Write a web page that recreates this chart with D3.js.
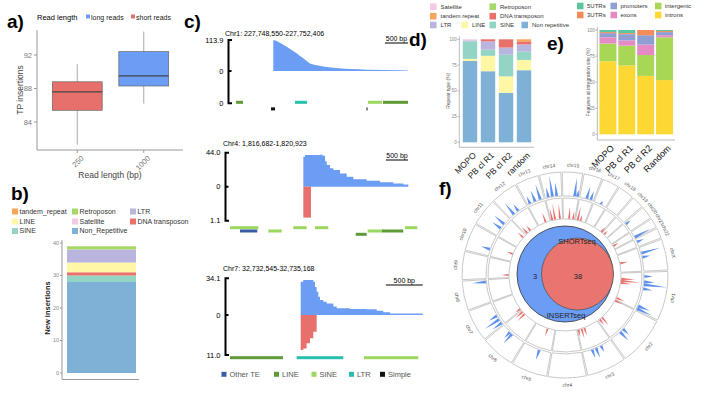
<!DOCTYPE html>
<html>
<head>
<meta charset="utf-8">
<script src="https://cdn.jsdelivr.net/npm/d3@7"></script>
<style>
body { margin: 0; background: #fff; }
svg { display: block; font-family: "Liberation Sans", Arial, sans-serif; }
</style>
</head>
<body>
<svg id="fig" width="708" height="397"></svg>
<script>
// ---------- data ----------
// a) TP insertions by read length
var readLengths = ['250', '1000'];
var readGroups = ['short reads', 'long reads'];
var boxStats = [
	{min: 81.3, q1: 85.4, med: 87.6, q3: 88.8, max: 90.9},
	{min: 86.2, q1: 88.3, med: 89.5, q3: 92.4, max: 94.8}
];
var aTicks = [84, 88, 92];

// b) new insertions by repeat class
var bKeys = ['Non_Repetitive', 'SINE', 'DNA transposon', 'LINE', 'LTR', 'Retroposon', 'Satellite', 'tandem_repeat'];
var bValues = [28, 2, 1, 3, 4, 1, 0, 0];
var bLegend = ['tandem_repeat', 'Retroposon', 'LTR', 'LINE', 'Satellite', 'DNA transposon', 'SINE', 'Non_Repetitive'];
var bTicks = [0, 10, 20, 30, 40];

// c) coverage tracks
var trackTitles = ['Chr1: 227,748,550-227,752,406', 'Chr4: 1,816,682-1,820,923', 'Chr7: 32,732,545-32,735,168'];
var trackLengths = [3856, 4241, 2623];
var trackMax = [113.9, 44.0, 34.1];
var trackMin = [0, 1.1, 11.0];
var scaleBarEnd = [3856, 4037, 2619];
// [bp offset, reads]
var cov1 = [[938, 113.9], [1011, 110], [1119, 100], [1227, 89], [1336, 77], [1444, 65], [1516, 55], [1588, 47], [1660, 37], [1733, 28], [1805, 24], [1877, 21], [2058, 16], [2238, 12], [2419, 9], [2599, 7], [2780, 6], [2960, 5], [3321, 4], [3682, 3], [3856, 2]];
var cov2 = [[1663, 38.8], [1701, 41], [1890, 41], [2041, 41.5], [2102, 40], [2155, 33], [2193, 28], [2268, 24], [2344, 21.6], [2495, 17], [2646, 13], [2797, 9.5], [3100, 7.8], [3402, 5.6], [3704, 4.3], [3931, 3], [4044, 1.3]];
var neg2 = [[1663, 1.0], [1837, 1.0]];
var cov3 = [[961, 31], [996, 32.5], [1110, 32.5], [1132, 31], [1155, 26], [1178, 21.7], [1200, 17], [1223, 14], [1268, 12.4], [1314, 10.8], [1404, 7.8], [1450, 6.2], [1631, 5.6], [1858, 5.3], [1994, 4], [2083, 2.5], [2174, 1.5], [2619, 1.5]];
var neg3 = [[961, 9.6], [996, 9.2], [1041, 7.8], [1087, 6.4], [1132, 4.6], [1178, 4.6]];
// [start, end, type, row]
var feat1 = [[130, 282, 'LINE', 0], [1408, 1668, 'LTR', 0], [2989, 3292, 'SINE', 0], [3314, 3856, 'LINE', 0], [888, 975, 'Simple', 2], [2957, 2978, 'Simple', 2]];
var feat2 = [[0, 642, 'SINE', 0], [1436, 1740, 'SINE', 0], [1928, 2229, 'SINE', 0], [3969, 4248, 'SINE', 0],
	[227, 619, 'Other TE', 1], [869, 1173, 'SINE', 1], [3123, 3441, 'SINE', 1], [3441, 3930, 'LINE', 1], [2851, 3100, 'LINE', 2]];
var feat3 = [[0, 720, 'LINE', 0], [906, 1540, 'LTR', 0], [1821, 2559, 'SINE', 0]];
var featTypes = ['Other TE', 'LINE', 'SINE', 'LTR', 'Simple'];

// d) repeat type (%)
var dCats = ['MOPO', 'PB cl R1', 'PB cl R2', 'random'];
var dKeys = ['Non repetitive', 'LINE', 'SINE', 'LTR', 'DNA transposon', 'tandem repeat', 'Retroposon', 'Satellite'];
var dNonRep = [79, 69, 48, 70];
var dLINE = [2, 15, 16, 10];
var dSINE = [17, 6, 21, 8];
var dLTR = [1, 8, 7, 7];
var dDNA = [0, 2, 8, 3];
var dTandem = [0, 0, 0, 2];
var dRetro = [0, 0, 0, 0];
var dSat = [1, 0, 0, 0];
var pctTicks = [0, 25, 50, 75, 100];

// e) features at integration site (%)
var eCats = ['MOPO', 'PB cl R1', 'PB cl R2', 'Random'];
var eKeys = ['introns', 'intergenic', 'exons', 'promoters', '3UTRs', '5UTRs'];
var eIntrons = [70, 66, 56, 52];
var eIntergenic = [17, 19, 20, 41];
var eExons = [6, 5, 10, 2];
var ePromoters = [4, 6, 9, 3];
var e3UTR = [1, 1, 5, 1];
var e5UTR = [2, 3, 0, 1];

// f) circos + venn
var chrNames = ['chr1', 'chr2', 'chr3', 'chr4', 'chr5', 'chr6', 'chr7', 'chr8', 'chr9', 'chr10', 'chr11', 'chr12', 'chr13', 'chr14', 'chr15', 'chr16', 'chr17', 'chr18', 'chr19', 'chr20', 'chr21', 'chr22', 'chrX'];
var chrSizes = [249, 243, 198, 191, 181, 171, 159, 146, 141, 136, 135, 133, 115, 107, 102, 90, 83, 80, 59, 64, 47, 51, 156];
// [chr, Mb, relative height]
var outerHits = [['chr1', 27, 0.35], ['chr1', 62, 0.45], ['chr1', 80, 1.0], ['chr1', 107, 0.4], ['chr1', 222, 0.55], ['chr1', 240, 0.7],
	['chr2', 144, 0.35], ['chr2', 170, 0.5], ['chr3', 72, 0.3], ['chr3', 107, 0.45], ['chr3', 134, 0.4], ['chr5', 77, 0.45],
	['chr6', 93, 0.55], ['chr6', 111, 0.35], ['chr7', 13, 0.5], ['chr7', 40, 0.75], ['chr7', 67, 0.4], ['chr8', 131, 0.6],
	['chr10', 43, 0.4], ['chr11', 52, 0.45], ['chr11', 87, 0.55], ['chr12', 34, 0.6], ['chr12', 69, 0.35], ['chr13', 18, 0.35],
	['chr13', 53, 0.5], ['chr13', 89, 0.7], ['chr14', 20, 0.45], ['chr14', 47, 0.9], ['chr14', 74, 0.6], ['chr15', 76, 0.8],
	['chr15', 94, 0.3], ['chr16', 46, 0.55], ['chr16', 73, 0.4], ['chr17', 47, 0.15], ['chr20', 10, 0.25], ['chr21', 40, 0.75],
	['chr22', 20, 0.3], ['chrX', 39, 0.85], ['chrX', 66, 0.35]];
var innerHits = [['chr1', 53, 0.7], ['chr1', 71, 0.95], ['chr1', 89, 0.5], ['chr1', 231, 0.45], ['chr2', 2, 0.4], ['chr2', 197, 0.5],
	['chr2', 224, 0.35], ['chr3', 134, 0.4], ['chr3', 160, 0.5], ['chr3', 188, 0.35], ['chr5', 68, 0.4], ['chr6', 129, 0.5],
	['chr6', 156, 0.45], ['chr7', 13, 0.3], ['chr9', 23, 0.35], ['chr10', 70, 0.3], ['chr11', 105, 0.35], ['chr12', 16, 0.4],
	['chr12', 52, 0.3], ['chr13', 71, 0.5], ['chr14', 12, 0.6], ['chr14', 38, 0.8], ['chr14', 82, 0.75], ['chr15', 51, 0.6],
	['chr15', 87, 0.4], ['chr16', 20, 0.7], ['chr16', 46, 0.3], ['chr18', 73, 0.3], ['chr19', 21, 0.25], ['chr21', 18, 0.3], ['chrX', 75, 0.4]];
var vennSets = ['INSERTseq', 'SHORTseq'];
var vennCounts = [3, 38];

// ---------- colours ----------
var readColor = d3.scaleOrdinal().domain(readGroups).range(['#E8706C', '#6C9DF5']);
var repeatColor = d3.scaleOrdinal()
	.domain(['Non_Repetitive', 'SINE', 'DNA transposon', 'LINE', 'LTR', 'Retroposon', 'Satellite', 'tandem_repeat'])
	.range(['#7FB1D6', '#93D5C4', '#E8716B', '#FFF6A6', '#B9B5DE', '#A7D86B', '#F5C8E3', '#F4A65A']);
var featColor = d3.scaleOrdinal().domain(featTypes).range(['#3A5CA6', '#5E9A36', '#9CD85F', '#25C0AE', '#111111']);
var featColorE = d3.scaleOrdinal().domain(eKeys).range(['#FDD734', '#A8D655', '#E68AC6', '#8F9FD3', '#F48C5A', '#5CC5A0']);

var svg = d3.select('#fig');

function panelLabel(txt, x, y){
	svg.append('text').attr('x', x).attr('y', y)
		.attr('font-size', 19).attr('font-weight', 'bold').text(txt);
}

// ---------- a) ----------
(function(){
	var g = svg.append('g');
	var y = d3.scaleLinear().domain([84, 92]).range([122, 55]);
	var x = d3.scaleBand().domain(readLengths).range([44, 177]).paddingInner(0.25).paddingOuter(0.125);

	panelLabel('a)', 7, 28);

	g.append('text').attr('x', 37).attr('y', 19.5).attr('font-size', 7.5).text('Read length');
	var lx = [86, 131];
	['long reads', 'short reads'].forEach(function(k, i){
		g.append('rect').attr('x', lx[i]).attr('y', 14.5).attr('width', 4).attr('height', 4).attr('fill', readColor(k));
		g.append('text').attr('x', lx[i] + 5).attr('y', 19.5).attr('font-size', 7).attr('fill', '#222').text(k);
	});

	g.append('line').attr('x1', 37).attr('x2', 37).attr('y1', 30).attr('y2', 150).attr('stroke', '#999');
	g.append('line').attr('x1', 37).attr('x2', 183).attr('y1', 150).attr('y2', 150).attr('stroke', '#999');
	aTicks.forEach(function(t){
		g.append('line').attr('x1', 34).attr('x2', 37).attr('y1', y(t)).attr('y2', y(t)).attr('stroke', '#999');
		g.append('text').attr('x', 32).attr('y', y(t)).attr('dy', '0.35em').attr('text-anchor', 'end')
			.attr('font-size', 7.5).attr('fill', '#777').text(t);
	});

	var box = g.selectAll('g.box').data(boxStats).enter().append('g');
	box.append('line')
		.attr('x1', function(d, i){ return x(readLengths[i]) + x.bandwidth() / 2; })
		.attr('x2', function(d, i){ return x(readLengths[i]) + x.bandwidth() / 2; })
		.attr('y1', function(d){ return y(d.max); })
		.attr('y2', function(d){ return y(d.min); })
		.attr('stroke', '#aaa');
	box.append('rect')
		.attr('x', function(d, i){ return x(readLengths[i]); })
		.attr('width', x.bandwidth())
		.attr('y', function(d){ return y(d.q3); })
		.attr('height', function(d){ return y(d.q1) - y(d.q3); })
		.attr('fill', function(d, i){ return readColor(readGroups[i]); })
		.attr('stroke', '#666').attr('stroke-width', 0.7);
	box.append('line')
		.attr('x1', function(d, i){ return x(readLengths[i]); })
		.attr('x2', function(d, i){ return x(readLengths[i]) + x.bandwidth(); })
		.attr('y1', function(d){ return y(d.med); })
		.attr('y2', function(d){ return y(d.med); })
		.attr('stroke', '#444').attr('stroke-width', 1.2);

	readLengths.forEach(function(r){
		var cx = x(r) + x.bandwidth() / 2;
		g.append('line').attr('x1', cx).attr('x2', cx).attr('y1', 150).attr('y2', 153).attr('stroke', '#999');
		g.append('text').attr('transform', 'translate(' + (cx + 5) + ',157) rotate(-45)')
			.attr('text-anchor', 'end').attr('dy', '0.35em').attr('font-size', 7.5).attr('fill', '#777').text(r);
	});
	g.append('text').attr('x', 110).attr('y', 178).attr('text-anchor', 'middle').attr('font-size', 8.5).attr('fill', '#444').text('Read length (bp)');
	g.append('text').attr('transform', 'translate(23,90) rotate(-90)').attr('text-anchor', 'middle')
		.attr('font-size', 8.5).attr('fill', '#444').text('TP insertions');
})();

// ---------- b) ----------
(function(){
	var g = svg.append('g');
	panelLabel('b)', 11, 200);
	var colX = [12, 72, 130], rowY = [211.5, 221.5, 231];
	bLegend.forEach(function(k, i){
		var cx = colX[i % 3], cy = rowY[Math.floor(i / 3)];
		g.append('rect').attr('x', cx).attr('y', cy - 3).attr('width', 6).attr('height', 6).attr('fill', repeatColor(k));
		g.append('text').attr('x', cx + 7.5).attr('y', cy).attr('dy', '0.35em').attr('font-size', 7).attr('fill', '#333').text(k);
	});

	var y = d3.scaleLinear().domain([0, 40]).range([373, 243]);
	var stacked = d3.stack().keys(bKeys)([bKeys.reduce(function(o, k, i){ o[k] = bValues[i]; return o; }, {})]);
	g.selectAll('rect.seg').data(stacked).enter().append('rect')
		.attr('x', 67).attr('width', 69)
		.attr('y', function(s){ return y(s[0][1]); })
		.attr('height', function(s){ return y(s[0][0]) - y(s[0][1]); })
		.attr('fill', function(s){ return repeatColor(s.key); });

	g.append('line').attr('x1', 62).attr('x2', 62).attr('y1', 240).attr('y2', 379.5).attr('stroke', '#999');
	g.append('line').attr('x1', 62).attr('x2', 139).attr('y1', 379.5).attr('y2', 379.5).attr('stroke', '#999');
	bTicks.forEach(function(t){
		g.append('line').attr('x1', 60).attr('x2', 62).attr('y1', y(t)).attr('y2', y(t)).attr('stroke', '#999');
		g.append('text').attr('x', 59).attr('y', y(t)).attr('dy', '0.35em').attr('text-anchor', 'end')
			.attr('font-size', 5.5).attr('fill', '#888').text(t);
	});
	g.append('text').attr('transform', 'translate(50,308) rotate(-90)').attr('text-anchor', 'middle')
		.attr('font-size', 7.5).attr('font-weight', 'bold').attr('fill', '#222').text('New insertions');
})();

// ---------- c) ----------
(function(){
	panelLabel('c)', 184, 28);
	var layout = [
		{pos: cov1, neg: null, feats: feat1, x0: 230, x1: 408, axisX: 228.5, top: 40, zero: 71, bottom: 103.3, titleX: 225, titleY: 35.5, rowY: 102.3, barY: 43, curve: d3.curveLinear},
		{pos: cov2, neg: neg2, feats: feat2, x0: 230, x1: 417, axisX: 225.5, top: 152.7, zero: 186.7, bottom: 220.7, titleX: 223, titleY: 146, rowY: 227.7, barY: 160, curve: d3.curveStepAfter},
		{pos: cov3, neg: neg3, feats: feat3, x0: 230, x1: 423, axisX: 225.5, top: 278.3, zero: 315, bottom: 355, titleX: 223, titleY: 271, rowY: 357.7, barY: 285, curve: d3.curveStepAfter}
	];
	layout.forEach(function(L, i){
		var g = svg.append('g');
		var x = d3.scaleLinear().domain([0, trackLengths[i]]).range([L.x0, L.x1]);
		var yp = d3.scaleLinear().domain([0, trackMax[i]]).range([L.zero, L.top]);
		var yn = d3.scaleLinear().domain([0, trackMin[i] || 1]).range([L.zero, L.bottom]);

		g.append('text').attr('x', L.titleX).attr('y', L.titleY).attr('font-size', 7).text(trackTitles[i]);

		var area = d3.area().curve(L.curve)
			.x(function(d){ return x(d[0]); }).y0(L.zero).y1(function(d){ return yp(d[1]); });
		g.append('path').datum(L.pos).attr('d', area).attr('fill', '#6C9DF5');
		if(L.neg){
			var areaN = d3.area().curve(d3.curveStepAfter)
				.x(function(d){ return x(d[0]); }).y0(L.zero).y1(function(d){ return yn(d[1]); });
			g.append('path').datum(L.neg).attr('d', areaN).attr('fill', '#E8706C');
		}

		// axis
		g.append('path')
			.attr('d', 'M' + (L.axisX + 3.5) + ',' + L.top + 'H' + L.axisX + 'V' + L.bottom + 'H' + (L.axisX + 3.5)
				+ 'M' + L.axisX + ',' + L.zero + 'H' + (L.axisX + 3))
			.attr('fill', 'none').attr('stroke', '#000').attr('stroke-width', 2);
		[[L.top, trackMax[i]], [L.zero, 0], [L.bottom, trackMin[i]]].forEach(function(t){
			g.append('text').attr('x', L.axisX - 5).attr('y', t[0]).attr('dy', '0.35em').attr('text-anchor', 'end')
				.attr('font-size', 7.5).text(t[1] === 0 ? '0' : t[1].toFixed(1));
		});

		g.selectAll('rect.feat').data(L.feats).enter().append('rect')
			.attr('x', function(d){ return x(d[0]); })
			.attr('width', function(d){ return Math.max(1, x(d[1]) - x(d[0])); })
			.attr('y', function(d){ return L.rowY + d[3] * 3.3 - 1.5; })
			.attr('height', 3)
			.attr('fill', function(d){ return featColor(d[2]); });

		// 500 bp scale bar
		var bx1 = x(scaleBarEnd[i]), bx0 = x(scaleBarEnd[i] - 500);
		g.append('line').attr('x1', bx0).attr('x2', bx1).attr('y1', L.barY).attr('y2', L.barY).attr('stroke', '#000').attr('stroke-width', 1);
		g.append('text').attr('x', (bx0 + bx1) / 2).attr('y', L.barY - 2).attr('text-anchor', 'middle').attr('font-size', 7).text('500 bp');
	});

	var lg = svg.append('g');
	var lx = [221.5, 274, 311.5, 349, 380];
	featTypes.forEach(function(k, i){
		lg.append('rect').attr('x', lx[i]).attr('y', 371.8).attr('width', 5).attr('height', 5).attr('fill', featColor(k));
		lg.append('text').attr('x', lx[i] + 8).attr('y', 374.3).attr('dy', '0.35em').attr('font-size', 7.5).attr('fill', '#555').text(k);
	});
})();

// ---------- stacked percentage bars (d, e) ----------
function pctBars(cats, keys, rows, color, o){
	var g = svg.append('g');
	var y = d3.scaleLinear().domain([0, 100]).range([o.y0, o.y100]);
	var x = d3.scaleBand().domain(cats).range(o.xr).paddingInner(o.pi).paddingOuter(o.po);
	var table = cats.map(function(c, j){
		var r = {cat: c};
		keys.forEach(function(k, i){ r[k] = rows[i][j]; });
		return r;
	});
	var series = d3.stack().keys(keys)(table);
	g.selectAll('g.s').data(series).enter().append('g')
		.attr('fill', function(s){ return color(s.key); })
		.selectAll('rect').data(function(s){ return s; }).enter().append('rect')
		.attr('x', function(d){ return x(d.data.cat); })
		.attr('width', x.bandwidth())
		.attr('y', function(d){ return y(d[1]); })
		.attr('height', function(d){ return y(d[0]) - y(d[1]); });

	g.append('line').attr('x1', o.ax).attr('x2', o.ax).attr('y1', o.y100 - 3).attr('y2', o.base).attr('stroke', '#aaa').attr('stroke-width', 0.8);
	g.append('line').attr('x1', o.ax).attr('x2', o.xr[1] + 1).attr('y1', o.base).attr('y2', o.base).attr('stroke', '#aaa').attr('stroke-width', 0.8);
	pctTicks.forEach(function(t){
		g.append('line').attr('x1', o.ax - 2).attr('x2', o.ax).attr('y1', y(t)).attr('y2', y(t)).attr('stroke', '#aaa').attr('stroke-width', 0.8);
		g.append('text').attr('x', o.ax - 2.5).attr('y', y(t)).attr('dy', '0.35em').attr('text-anchor', 'end')
			.attr('font-size', 4.5).attr('fill', '#888').text(t);
	});
	cats.forEach(function(c){
		var cx = x(c) + x.bandwidth() / 2;
		g.append('text').attr('transform', 'translate(' + (cx + 3) + ',' + (o.base + 5) + ') rotate(-45)')
			.attr('text-anchor', 'end').attr('dy', '0.6em').attr('font-size', o.labSize).attr('fill', '#111').text(c);
	});
	g.append('text').attr('transform', 'translate(' + o.ylx + ',' + ((o.y0 + o.y100) / 2) + ') rotate(-90)')
		.attr('text-anchor', 'middle').attr('font-size', 5).attr('fill', '#555').text(o.ylabel);
}

// d)
panelLabel('d)', 409, 46);
(function(){
	var items = [['Satellite', 430, 6.7], ['Retroposon', 489.5, 6.7], ['tandem repeat', 430, 16.2], ['DNA transposon', 489.5, 16.2],
		['LTR', 430, 25], ['LINE', 461.5, 25], ['SINE', 489.5, 25], ['Non repetitive', 521.5, 25]];
	var dLegColor = d3.scaleOrdinal().domain(dKeys)
		.range(['#7FB1D6', '#FFF6A6', '#93D5C4', '#B9B5DE', '#E8716B', '#F4A65A', '#A7D86B', '#F5C8E3']);
	items.forEach(function(it){
		svg.append('rect').attr('x', it[1]).attr('y', it[2] - 3.3).attr('width', 6.5).attr('height', 6.6).attr('fill', dLegColor(it[0]));
		svg.append('text').attr('x', it[1] + 10.5).attr('y', it[2]).attr('dy', '0.35em').attr('font-size', 6).attr('fill', '#333').text(it[0]);
	});
	pctBars(dCats, dKeys, [dNonRep, dLINE, dSINE, dLTR, dDNA, dTandem, dRetro, dSat], dLegColor,
		{y0: 142.3, y100: 39.3, base: 147.3, xr: [461, 533], pi: 0.2, po: 0.1, ax: 459.3, ylx: 450, ylabel: 'Repeat type (%)', labSize: 8.5});
})();

// e)
panelLabel('e)', 547, 50);
(function(){
	var items = [['5UTRs', 577, 6], ['promoters', 610.5, 6], ['intergenic', 655, 6], ['3UTRs', 577, 15], ['exons', 610.5, 15], ['introns', 655, 15]];
	items.forEach(function(it){
		svg.append('rect').attr('x', it[1]).attr('y', it[2] - 3.3).attr('width', 6.5).attr('height', 6.6).attr('fill', featColorE(it[0]));
		svg.append('text').attr('x', it[1] + 10).attr('y', it[2]).attr('dy', '0.35em').attr('font-size', 6).attr('fill', '#333').text(it[0]);
	});
	pctBars(eCats, eKeys, [eIntrons, eIntergenic, eExons, ePromoters, e3UTR, e5UTR], featColorE,
		{y0: 134.3, y100: 30, base: 140, xr: [598.5, 674], pi: 0.1, po: 0.05, ax: 597.3, ylx: 590, ylabel: 'Features at integration site (%)', labSize: 9});
})();

// ---------- f) ----------
(function(){
	panelLabel('f)', 439, 195);
	var cx = 565, cy = 275;
	var g = svg.append('g').attr('transform', 'translate(' + cx + ',' + cy + ')');
	var startDeg = 88, gapDeg = 0.8;
	var total = d3.sum(chrSizes);
	var k = (360 - gapDeg * chrSizes.length) / total;
	var offs = [0].concat(Array.from(d3.cumsum(chrSizes)));
	function ang(chr, pos){
		var i = chrNames.indexOf(chr);
		return (startDeg + i * gapDeg + (offs[i] + pos) * k) * Math.PI / 180;
	}
	var rings = [[79, 103], [56, 77]];
	rings.forEach(function(r){
		chrNames.forEach(function(c, i){
			var arc = d3.arc().innerRadius(r[0]).outerRadius(r[1])
				.startAngle(ang(c, 0)).endAngle(ang(c, chrSizes[i]));
			g.append('path').attr('d', arc()).attr('fill', '#fff').attr('stroke', '#bbb').attr('stroke-width', 0.8);
		});
	});

	function spikes(hits, r0, depth, color){
		var line = d3.lineRadial().angle(function(d){ return d[0]; }).radius(function(d){ return d[1]; });
		var dA = 1.1 * Math.PI / 180;
		g.selectAll(null).data(hits).enter().append('path')
			.attr('d', function(d){
				var a = ang(d[0], d[1]);
				return line([[a - dA, r0], [a, r0 + d[2] * depth], [a + dA, r0]]) + 'Z';
			})
			.attr('fill', color);
	}
	spikes(outerHits, 79.5, 23, '#5E91EC');
	spikes(innerHits, 56.5, 20, '#E8706C');

	chrNames.forEach(function(c, i){
		var a = ang(c, chrSizes[i] / 2), deg = a * 180 / Math.PI % 360;
		var rot = (deg > 90 && deg < 270) ? deg - 180 : deg;
		var px = 110 * Math.sin(a), py = -110 * Math.cos(a);
		g.append('text').attr('transform', 'translate(' + px + ',' + py + ') rotate(' + rot + ')')
			.attr('text-anchor', 'middle').attr('dy', '0.35em').attr('font-size', 5).attr('fill', '#555').text(c);
	});

	// venn
	g.append('circle').attr('cx', 0).attr('cy', -1).attr('r', 48).attr('fill', '#6C9DF5').attr('stroke', '#333').attr('stroke-width', 0.8);
	g.append('circle').attr('cx', 12.5).attr('cy', -1).attr('r', 36).attr('fill', '#E8756F').attr('stroke', '#555').attr('stroke-width', 0.8);
	g.append('text').attr('x', 12).attr('y', -31).attr('text-anchor', 'middle').attr('font-size', 7.5).attr('fill', '#222').text(vennSets[1]);
	g.append('text').attr('x', 1).attr('y', 43).attr('text-anchor', 'middle').attr('font-size', 7.5).attr('fill', '#222').text(vennSets[0]);
	g.append('text').attr('x', -30).attr('y', 1).attr('dy', '0.35em').attr('text-anchor', 'middle').attr('font-size', 7.5).attr('fill', '#222').text(vennCounts[0]);
	g.append('text').attr('x', 13).attr('y', 1).attr('dy', '0.35em').attr('text-anchor', 'middle').attr('font-size', 7.5).attr('fill', '#222').text(vennCounts[1]);
})();
</script>
</body>
</html>
